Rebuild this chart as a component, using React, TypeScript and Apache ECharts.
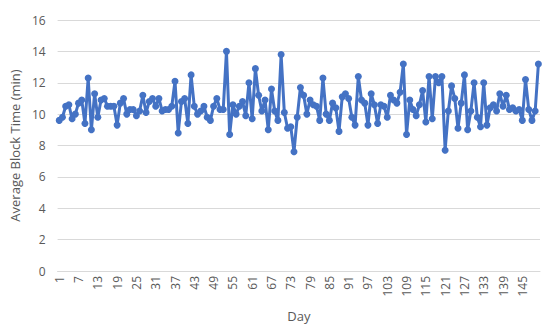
import React, { useEffect, useRef } from "react";
import * as echarts from "echarts";

const days: string[] = Array.from({ length: 150 }, (_, i) => String(i + 1));

const blockTime: number[] = [
  9.6, 9.8, 10.5, 10.6, 9.7, 10.0, 10.7, 10.9, 9.4, 12.3,
  9.0, 11.3, 9.8, 10.9, 11.0, 10.5, 10.5, 10.5, 9.3, 10.7,
  11.0, 10.0, 10.3, 10.3, 9.9, 10.2, 11.2, 10.1, 10.8, 11.0,
  10.5, 11.0, 10.2, 10.3, 10.3, 10.5, 12.1, 8.8, 10.8, 11.0,
  9.4, 12.5, 10.5, 10.0, 10.2, 10.5, 9.8, 9.6, 10.5, 11.0,
  10.3, 10.3, 14.0, 8.7, 10.6, 10.0, 10.5, 10.8, 9.9, 12.0,
  9.7, 12.9, 11.2, 10.2, 10.9, 9.0, 11.6, 10.2, 9.6, 13.8,
  10.1, 9.1, 9.2, 7.6, 9.8, 11.7, 11.2, 10.0, 10.9, 10.6,
  10.5, 9.6, 12.3, 10.0, 9.6, 10.7, 10.4, 8.9, 11.1, 11.3,
  11.0, 9.8, 9.3, 12.4, 10.9, 10.7, 9.3, 11.3, 10.6, 9.4,
  10.6, 10.5, 9.8, 11.2, 10.9, 10.7, 11.4, 13.2, 8.7, 10.9,
  10.3, 9.9, 10.6, 11.5, 9.5, 12.4, 9.7, 12.4, 12.0, 12.4,
  7.7, 10.2, 11.8, 11.0, 9.1, 10.7, 12.5, 9.0, 10.2, 12.0,
  9.8, 9.2, 12.0, 9.3, 10.4, 10.6, 10.2, 11.3, 10.5, 11.2,
  10.3, 10.4, 10.2, 10.3, 9.6, 12.2, 10.3, 9.6, 10.2, 13.2,
];

const yName = "Average Block Time (min)";
const xName = "Day";

export default function App() {
  const ref = useRef<HTMLDivElement>(null);
  useEffect(() => {
    if (!ref.current) return;
    const chart = echarts.init(ref.current, undefined, { renderer: "svg" });
    const font = "'Open Sans', 'Noto Sans', sans-serif";
    chart.setOption({
      animation: false,
      grid: { left: 57, right: 10, top: 20, bottom: 61 },
      xAxis: {
        type: "category",
        data: days,
        boundaryGap: true,
        name: xName,
        nameLocation: "middle",
        nameGap: 38,
        nameTextStyle: { color: "#595959", fontSize: 13, fontFamily: font },
        axisLine: { show: true, lineStyle: { color: "#d9d9d9", width: 1 } },
        axisTick: { show: false },
        axisLabel: {
          interval: 5,
          rotate: 90,
          color: "#595959",
          fontSize: 12,
          fontFamily: font,
          margin: 5,
        },
      },
      yAxis: {
        type: "value",
        min: 0,
        max: 16,
        interval: 2,
        name: yName,
        nameLocation: "middle",
        nameGap: 32,
        nameTextStyle: { color: "#595959", fontSize: 13, fontFamily: font },
        axisLine: { show: false },
        axisTick: { show: false },
        axisLabel: { color: "#595959", fontSize: 12, fontFamily: font, margin: 12 },
        splitLine: { lineStyle: { color: "#d9d9d9", width: 1 } },
      },
      series: [
        {
          type: "line",
          data: blockTime,
          symbol: "circle",
          symbolSize: 7,
          showAllSymbol: true,
          lineStyle: { color: "#4472C4", width: 3 },
          itemStyle: { color: "#4472C4" },
        },
      ],
    });
    return () => chart.dispose();
  }, []);
  return <div ref={ref} style={{ width: 550, height: 332, margin: -8 }} />;
}
